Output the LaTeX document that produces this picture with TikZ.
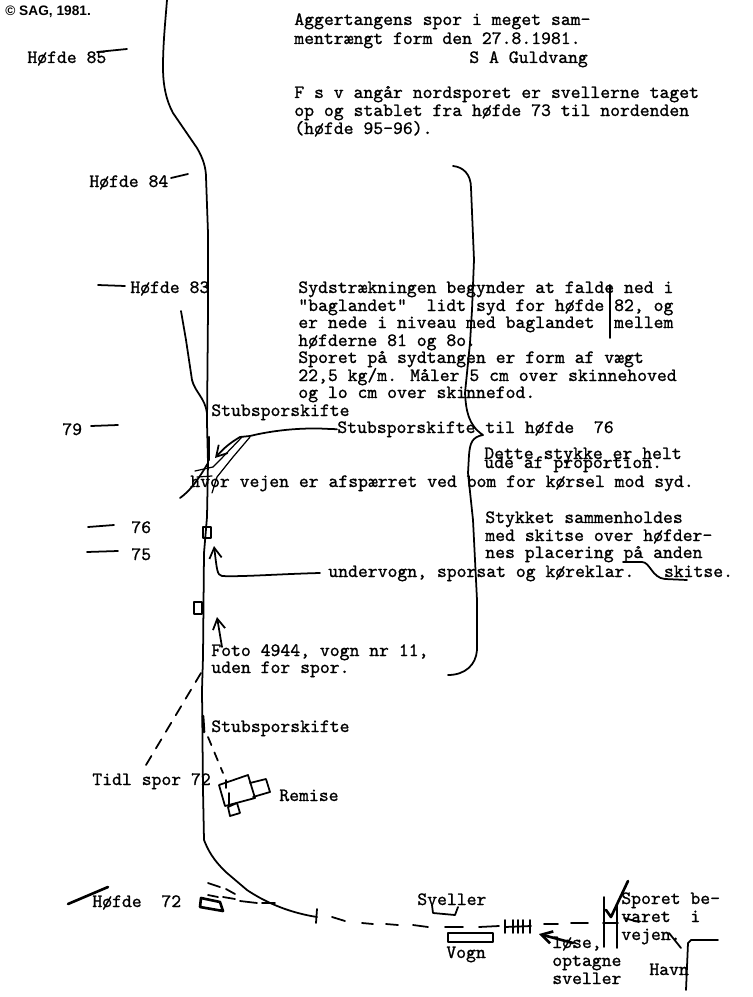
\documentclass[tikz,border=0pt]{standalone}
\usepackage{fontspec}
\usepackage{xcolor}
\usepackage{tikz}
\usetikzlibrary{arrows.meta,positioning,calc}
\newfontfamily\creditfont{Liberation Sans}
\newfontfamily\typerfont{Latin Modern Mono}[FakeBold=1]
\tikzset{
    typed/.style={font=\typerfont\fontsize{10.7}{10}\selectfont, anchor=base west, inner sep=0pt, align=left},
    credit/.style={font=\creditfont\bfseries\fontsize{7.8}{9}\selectfont, anchor=base west, inner sep=0pt},
    pen/.style={line width=1pt, line cap=round, line join=round},
    thickpen/.style={line width=1.5pt, line cap=round, line join=round},
    thinpen/.style={line width=0.7pt, line cap=round, line join=round},
    penarrow/.style={pen, ->}
}
\begin{document}
\begin{tikzpicture}[x=0.02cm, y=-0.02cm, >={Straight Barb[length=6pt,width=7pt]}]
    \useasboundingbox (0,0) rectangle (752,997);

    % Top text
    \node[credit] (credit) at (5,16) {© SAG, 1981.};
    \node[typed] (title1) at (294,25) {Aggertangens spor i meget sam-};
    \node[typed] (title2) at (294,44) {mentrængt form den 27.8.1981.};
    \node[typed] (signed) at (469,63) {S A Guldvang};
    \node[typed] (north1) at (294,98) {F s v angår nordsporet er svellerne taget};
    \node[typed] (north2) at (294,116) {op og stablet fra høfde 73 til nordenden};
    \node[typed] (north3) at (294,134) {(høfde 95-96).};

    % Middle text
    \node[typed] (south1) at (298,293) {Sydstrækningen begynder at falde ned i};
    \node[typed] (south2) at (298,311) {"baglandet"\ \ lidt syd for høfde 82, og};
    \node[typed] (south3) at (298,328) {er nede i niveau med baglandet\ \ mellem};
    \node[typed] (south4) at (298,346) {høfderne 81 og 8o.};
    \node[typed] (rail1) at (298,363) {Sporet på sydtangen er form af vægt};
    \node[typed] (rail2) at (298,381) {22,5 kg/m. Måler 5 cm over skinnehoved};
    \node[typed] (rail3) at (298,398) {og lo cm over skinnefod.};
    \node[typed] (stub1) at (211,416) {Stubsporskifte};
    \node[typed] (stub2) at (337,433) {Stubsporskifte til høfde\ \ 76};
    \node[typed] (piece1) at (484,459) {Dette stykke er helt};
    \node[typed] (piece2) at (484,468) {ude af proportion.};
    \node[typed] (road) at (190,487) {hvor vejen er afspærret ved bom for kørsel mod syd.};
    \node[typed] (held1) at (485,523) {Stykket sammenholdes};
    \node[typed] (held2) at (485,541) {med skitse over høfder-};
    \node[typed] (held3) at (485,558) {nes placering på anden};
    \node[typed] (under) at (328,577) {undervogn, sporsat og køreklar.\ \ \ skitse.};
    \node[typed] (foto1) at (211,656) {Foto 4944, vogn nr 11,};
    \node[typed] (foto2) at (211,673) {uden for spor.};

    % Labels along the track
    \node[typed] (h85) at (27,63) {Høfde 85};
    \node[typed] (h84) at (89,187) {Høfde 84};
    \node[typed] (h83) at (130,293) {Høfde 83};
    \node[typed] (h79) at (62,435) {79};
    \node[typed] (h76) at (131,533) {76};
    \node[typed] (h75) at (131,560) {75};
    \node[typed] (stub3) at (211,732) {Stubsporskifte};
    \node[typed] (tidl) at (92,785) {Tidl spor 72};
    \node[typed] (remise) at (279,801) {Remise};
    \node[typed] (h72) at (92,907) {Høfde\ \ 72};
    \node[typed] (sveller) at (417,905) {Sveller};
    \node[typed] (vogn) at (446,958) {Vogn};
    \node[typed] (loose1) at (552,948) {løse,};
    \node[typed] (loose2) at (552,966) {optagne};
    \node[typed] (loose3) at (552,984) {sveller};
    \node[typed] (kept1) at (621,904) {Sporet be-};
    \node[typed] (kept2) at (621,922) {varet\ \ i};
    \node[typed] (kept3) at (621,940) {vejen.};
    \node[typed] (havn) at (649,975) {Havn};

    % Main track
    \draw[pen] (167,0) .. controls (165,25) and (163,45) .. (163,67)
        .. controls (163,85) and (166,100) .. (173,113) -- (197,148)
        .. controls (203,158) and (206,168) .. (206,177) -- (208,233) -- (208,310)
        -- (207,423) -- (208,463) -- (207,517) -- (204,553) -- (203,657) -- (202,690)
        -- (203,790) -- (204,840) .. controls (208,850) and (213,860) .. (227,873)
        -- (247,890) .. controls (262,900) and (285,912) .. (317,917);
    \draw[pen] (317,909) -- (316,923);
    \draw[pen] (181,311) -- (186,340) -- (192,380) .. controls (195,392) and (205,398) .. (207,413);

    % Marks for the groynes
    \draw[pen] (97,52) -- (127,49);
    \draw[pen] (171,178) -- (188,174);
    \draw[pen] (98,285) -- (125,286);
    \draw[pen] (91,426) -- (118,425);
    \draw[pen] (88,527) -- (114,525);
    \draw[pen] (87,552) -- (118,551);
    \draw[thickpen] (68,904) -- (108,887);

    % Junction and road
    \draw[thickpen] (209,437) -- (209,460);
    \draw[penarrow] (stub2.west) -- (330,429) .. controls (300,427) and (270,431) .. (250,436)
        -- (240,437) .. controls (230,443) and (225,447) .. (215,458);
    \draw[thinpen] (250,437) -- (233,457) -- (217,477) -- (212,493);
    \draw[thinpen] (242,437) -- (220,460) -- (213,467);
    \draw[thinpen] (195,471) -- (213,467);
    \draw[thinpen] (197,477) -- (212,476);
    \draw[pen] (180,498) .. controls (190,491) and (198,480) .. (208,463);

    % Wagons and arrows on the track
    \draw[pen] (203,527) rectangle (211,538);
    \draw[pen] (194,602) rectangle (202,614);
    \coordinate (undervogn) at (320,573);
    \coordinate (fotostart) at (222,647);
    \draw[penarrow] (undervogn) .. controls (280,574) and (240,577) .. (222,576)
        .. controls (217,575) and (217,570) .. (214,546);
    \draw[penarrow] (fotostart) -- (217,617);

    % Old tracks
    \draw[pen, dash pattern=on 6pt off 5pt] (201,673) -- (143,770);
    \draw[pen, dash pattern=on 5pt off 4.5pt] (208,737) -- (223,773);
    \draw[thickpen] (203,716) -- (204,732);

    % Remise
    \draw[pen] (219,785) -- (248,775) -- (255,798) -- (225,806) -- cycle;
    \draw[pen] (250,783) -- (266,779) -- (270,792) -- (253,797);
    \draw[pen] (228,807) -- (237,803) -- (240,813) -- (230,816) -- cycle;
    \draw[pen] (226,780) -- (226,788);
    \draw[pen] (229,793) -- (229,805);

    % South end
    \draw[thickpen] (220,902) -- (201,898) -- (200,907) -- (223,911) -- cycle;
    \foreach \xa/\ya/\xb/\yb in {208/883/220/887, 226/889/235/894, 208/895/218/897,
        223/897/235/899, 240/901/257/903, 262/903/275/903, 332/917/345/921, 362/923/373/924,
        386/924/398/925, 413/925/428/927, 445/927/463/927, 479/927/499/926,
        544/924/558/924, 571/923/588/923, 603/923/618/923} {
        \draw[pen] (\xa,\ya) -- (\xb,\yb);
    }
    \draw[pen] (505,927) -- (531,926);
    \foreach \x in {505,513,518,523,530} {
        \draw[pen] (\x,920) -- (\x,933);
    }
    \draw[pen] (432,905) -- (433,913) -- (455,915) -- (458,907);
    \draw[pen] (448,933) rectangle (493,942);
    \coordinate (loosestart) at (573,943);
    \draw[->, thickpen] (loosestart) -- (539,934);

    % Road and harbour
    \draw[pen] (604,897) -- (604,947);
    \draw[pen] (617,905) -- (617,948);
    \draw[thickpen] (628,881) -- (611,917) -- (606,910);
    \draw[pen] (669,933) -- (681,948);
    \draw[pen] (686,990) -- (688,943) -- (691,940) -- (718,940);
    \draw[pen] (624,918) -- (639,922);

    % Long bracket
    \draw[pen] (453,166) .. controls (463,167) and (471,174) .. (471,188) -- (474,260)
        -- (472,310) -- (470,343) -- (465,393) .. controls (466,410) and (468,425) .. (483,435)
        .. controls (472,437) and (470,443) .. (469,455) -- (468,473) -- (473,520) -- (477,600)
        -- (477,650) .. controls (476,665) and (465,675) .. (448,675);
    \draw[pen] (610,285) -- (610,338);
    \draw[pen] (623,562) -- (642,562) .. controls (650,562) and (652,578) .. (665,579) -- (687,580);
\end{tikzpicture}
\end{document}
